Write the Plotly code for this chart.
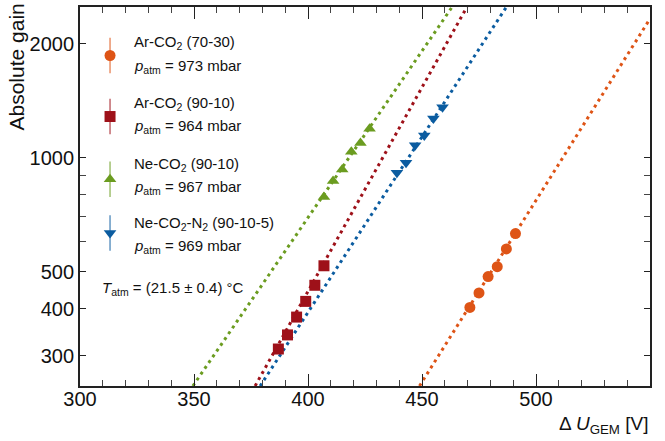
import plotly.graph_objects as go

# ---- data ----
ar7030_u = [471, 475, 479, 483, 487, 491]
ar7030_g = [403, 440, 486, 516, 575, 631]
ar9010_u = [387, 391, 395, 399, 403, 407]
ar9010_g = [313, 341, 380, 418, 461, 519]
neco_u = [407, 411, 415, 419, 423, 427]
neco_g = [788, 868, 932, 1037, 1095, 1193]
necon_u = [439, 443, 447, 451, 455, 459]
necon_g = [913, 970, 1080, 1146, 1270, 1360]

# exponential fit lines: end points (U, gain) where they leave the frame
fit_ar7030_u = [448.9, 550.0]
fit_ar7030_g = [250, 2328]
fit_ar9010_u = [376.8, 469.7]
fit_ar9010_g = [250, 2500]
fit_neco_u = [349.5, 463.2]
fit_neco_g = [250, 2500]
fit_necon_u = [379.0, 487.0]
fit_necon_g = [250, 2500]

series_names = ["Ar-CO<sub>2</sub> (70-30)", "Ar-CO<sub>2</sub> (90-10)",
                "Ne-CO<sub>2</sub> (90-10)", "Ne-CO<sub>2</sub>-N<sub>2</sub> (90-10-5)"]
pressures = ["973", "964", "967", "969"]

x_tickvals = [300, 350, 400, 450, 500, 550]
y_tickvals = [300, 400, 500, 1000, 2000]
y_ticktext = ["300", "400", "500", "1000", "2000"]
y_minor_vals = [600, 700, 800, 900]

colors = ["#de5416", "#9e1119", "#6b9c20", "#0b5ca0"]
bar_colors = ["rgba(222,84,22,0.6)", "rgba(158,17,25,0.6)",
              "rgba(107,156,32,0.6)", "rgba(11,92,160,0.6)"]
symbols = ["circle", "square", "triangle-up", "triangle-down"]

FONT = "Liberation Sans, Arial, sans-serif"

fig = go.Figure()

fits = [(fit_ar7030_u, fit_ar7030_g), (fit_ar9010_u, fit_ar9010_g),
        (fit_neco_u, fit_neco_g), (fit_necon_u, fit_necon_g)]
for (fu, fg), c in zip(fits, colors):
    fig.add_trace(go.Scatter(x=fu, y=fg, mode="lines",
                             line=dict(color=c, width=3, dash="3px,4px"),
                             showlegend=False, hoverinfo="skip"))

pts = [(ar7030_u, ar7030_g), (ar9010_u, ar9010_g),
       (neco_u, neco_g), (necon_u, necon_g)]
for (u, g), c, s in zip(pts, colors, symbols):
    fig.add_trace(go.Scatter(x=u, y=g, mode="markers",
                             marker=dict(color=c, symbol=s, size=11,
                                         line=dict(width=0)),
                             showlegend=False))

# custom legend (drawn on an overlay axis in plot-fraction units)
leg_x = 0.0527
leg_y = [0.872, 0.711, 0.5456, 0.4037]
for i in range(4):
    fig.add_trace(go.Scatter(x=[leg_x], y=[leg_y[i]], mode="markers",
                             xaxis="x2", yaxis="y2",
                             marker=dict(color=colors[i], symbol=symbols[i], size=11,
                                         line=dict(width=0)),
                             error_y=dict(type="constant", value=0.047,
                                          color=bar_colors[i], thickness=1.6, width=0),
                             showlegend=False, hoverinfo="skip"))

annotations = []
def py2paper(py):
    return (386 - py) / 381.0

line1_y = [41, 102, 163, 223]
line2_y = [62, 122, 183, 243]
for i in range(4):
    annotations.append(dict(x=(132 - 80) / 570, y=py2paper(line1_y[i]), xref="paper", yref="paper",
                            text=series_names[i], showarrow=False, xanchor="left", yanchor="middle",
                            font=dict(family=FONT, size=15, color="#111")))
    annotations.append(dict(x=(132 - 80) / 570, y=py2paper(line2_y[i] + 3), xref="paper", yref="paper",
                            text="<i>p</i><sub>atm</sub> = " + pressures[i] + " mbar",
                            showarrow=False, xanchor="left", yanchor="middle",
                            font=dict(family=FONT, size=15, color="#111")))
annotations.append(dict(x=(100 - 80) / 570, y=py2paper(288), xref="paper", yref="paper",
                        text="<i>T</i><sub>atm</sub> = (21.5 ± 0.4) °C", showarrow=False,
                        xanchor="left", yanchor="middle",
                        font=dict(family=FONT, size=15, color="#111")))
annotations.append(dict(x=1.0, y=py2paper(425), xref="paper", yref="paper",
                        text="Δ <i>U</i><sub>GEM</sub> [V]", showarrow=False,
                        xanchor="right", yanchor="middle",
                        font=dict(family=FONT, size=19, color="#111")))
annotations.append(dict(x=(17 - 80) / 570, y=py2paper(0), xref="paper", yref="paper",
                        text="Absolute gain", showarrow=False, textangle=-90,
                        xanchor="center", yanchor="top",
                        font=dict(family=FONT, size=21, color="#111")))

fig.update_layout(
    width=665, height=441,
    margin=dict(l=80, r=15, t=5, b=55),
    plot_bgcolor="white", paper_bgcolor="white",
    font=dict(family=FONT, size=19, color="#111"),
    annotations=annotations,
    xaxis=dict(range=[300, 550], showgrid=False, zeroline=False,
               showline=True, linecolor="#222", linewidth=1.8, mirror="allticks",
               ticks="inside", ticklen=12, tickwidth=1.4, tickcolor="#222",
               tickvals=x_tickvals, ticklabelstandoff=-6,
               minor=dict(dtick=10, ticks="inside", ticklen=6, tickwidth=1.2, tickcolor="#444"),
               tickfont=dict(family=FONT, size=20, color="#111")),
    yaxis=dict(type="log", range=[2.39794, 3.39794], showgrid=False, zeroline=False,
               showline=True, linecolor="#222", linewidth=1.8, mirror="allticks",
               ticks="inside", ticklen=6, tickwidth=1.4, tickcolor="#222",
               tickvals=y_tickvals, ticktext=y_ticktext,
               minor=dict(tickvals=y_minor_vals, ticks="inside", ticklen=6,
                          tickwidth=1.2, tickcolor="#444"),
               tickfont=dict(family=FONT, size=20, color="#111")),
    xaxis2=dict(range=[0, 1], overlaying="x", visible=False, showgrid=False),
    yaxis2=dict(range=[0, 1], overlaying="y", visible=False, showgrid=False),
    showlegend=False,
)

fig.write_html("out.html", config={"displayModeBar": False},
               post_script="document.body.style.margin='0';")
